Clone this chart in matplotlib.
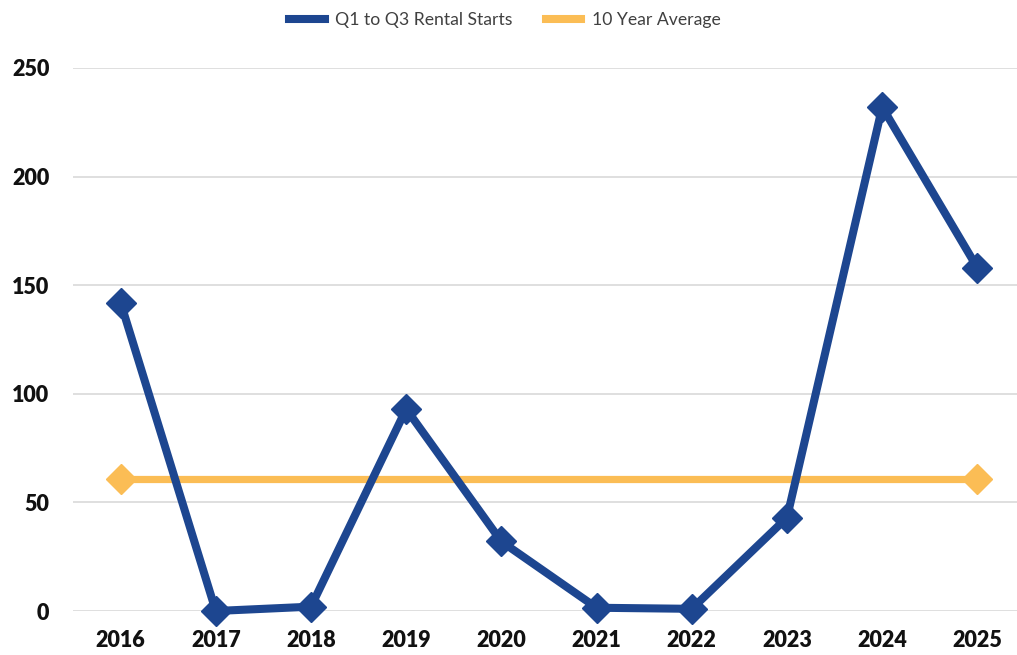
import matplotlib.pyplot as plt
from matplotlib.lines import Line2D

years = ['2016', '2017', '2018', '2019', '2020', '2021', '2022', '2023', '2024', '2025']
starts = [142, 0, 2, 93, 32, 1.5, 1, 43, 232, 158]
avg = [61] * len(years)
yticks = [0, 50, 100, 150, 200, 250]

blue = '#1d4690'
orange = '#fbbd55'

plt.rcParams['font.family'] = ['Lato', 'DejaVu Sans']

fig = plt.figure(figsize=(10.17, 6.55), dpi=100)
ax = fig.add_axes([73/1017, 44/655, 952/1017, 543/655])

x = list(range(len(years)))
ax.plot(x, avg, color=orange, lw=5.2, marker='D', ms=15, markevery=[0, len(years)-1],
        clip_on=False, zorder=3, solid_capstyle='butt')
ax.plot(x, starts, color=blue, lw=5.8, marker='D', ms=15, clip_on=False, zorder=4)

ax.set_xlim(-0.5, len(years) - 0.5)
ax.set_ylim(0, 250)
ax.set_yticks(yticks)
ax.set_xticks(x)
ax.set_xticklabels(years)
ax.grid(axis='y', color='#d9d9d9', lw=1.2)
ax.set_axisbelow(True)
for s in ax.spines.values():
    s.set_visible(False)
ax.tick_params(length=0, labelsize=15.5, labelcolor='#111111', pad=14)
ax.tick_params(axis='y', pad=17)
for lab in ax.get_xticklabels() + ax.get_yticklabels():
    lab.set_fontweight('heavy')

handles = [Line2D([0], [0], color=blue, lw=5.8),
           Line2D([0], [0], color=orange, lw=5.8)]
fig.legend(handles, ['Q1 to Q3 Rental Starts', '10 Year Average'], loc='center',
           bbox_to_anchor=(505/1017, 1 - 20/655), ncol=2, frameon=False,
           fontsize=12.7, labelcolor='#404040', handlelength=2.0, columnspacing=1.9,
           handletextpad=0.6)

fig.savefig('out.png', dpi=100)
